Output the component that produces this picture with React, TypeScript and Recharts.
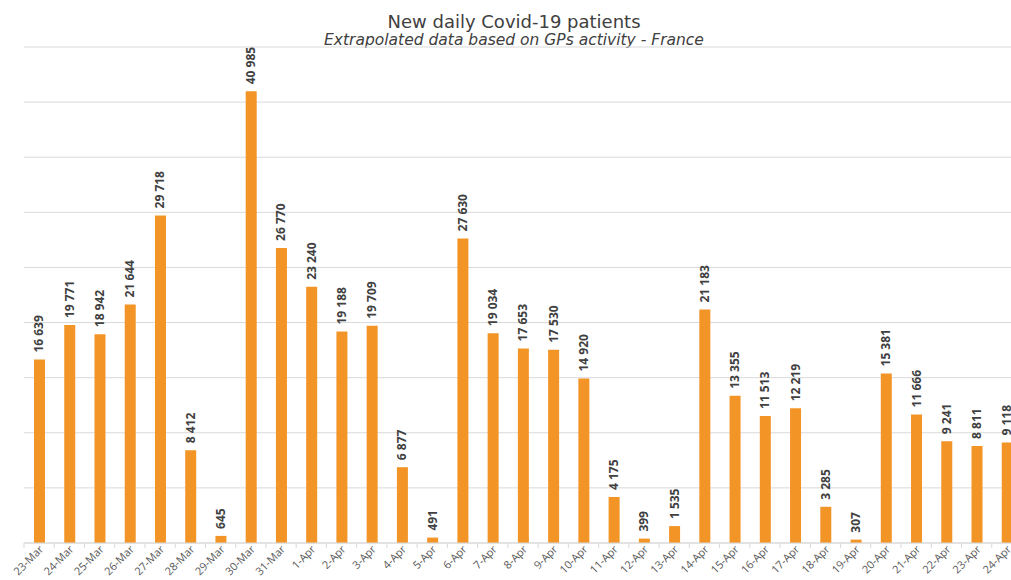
import React from "react";
import { BarChart, Bar, XAxis, YAxis, CartesianGrid, LabelList } from "recharts";

const days = [
  "23-Mar", "24-Mar", "25-Mar", "26-Mar", "27-Mar", "28-Mar", "29-Mar", "30-Mar", "31-Mar",
  "1-Apr", "2-Apr", "3-Apr", "4-Apr", "5-Apr", "6-Apr", "7-Apr", "8-Apr", "9-Apr", "10-Apr",
  "11-Apr", "12-Apr", "13-Apr", "14-Apr", "15-Apr", "16-Apr", "17-Apr", "18-Apr", "19-Apr",
  "20-Apr", "21-Apr", "22-Apr", "23-Apr", "24-Apr",
];
const patients = [
  16639, 19771, 18942, 21644, 29718, 8412, 645, 40985, 26770,
  23240, 19188, 19709, 6877, 491, 27630, 19034, 17653, 17530, 14920,
  4175, 399, 1535, 21183, 13355, 11513, 12219, 3285, 307,
  15381, 11666, 9241, 8811, 9118,
];
const yTicks = [0, 5000, 10000, 15000, 20000, 25000, 30000, 35000, 40000, 45000];

const data = days.map((d, i) => ({ day: d, value: patients[i] }));

const fmt = (v: number) => String(v).replace(/\B(?=(\d{3})+(?!\d))/g, " ");
const BAND = 30.25;
const BASE = 543;

function DayTick(props: any) {
  const { x, payload, index } = props;
  const last = index === days.length - 1;
  const tx = x + 5;
  const ty = BASE + 7;
  return (
    <g>
      <line x1={x - BAND / 2} x2={x - BAND / 2} y1={BASE} y2={BASE + 5} stroke="#d9d9d9" />
      {last && <line x1={x + BAND / 2} x2={x + BAND / 2} y1={BASE} y2={BASE + 5} stroke="#d9d9d9" />}
      <text
        x={tx}
        y={ty}
        textAnchor="end"
        fill="#595959"
        fontSize={11}
        fontFamily="'Open Sans', sans-serif"
        transform={`rotate(-45, ${tx}, ${ty})`}
      >
        {payload.value}
      </text>
    </g>
  );
}

function ValueLabel(props: any) {
  const { x, y, width, value } = props;
  const cx = x + width / 2 + 4;
  const cy = y - 7;
  return (
    <text
      x={cx}
      y={cy}
      transform={`rotate(-90, ${cx}, ${cy})`}
      textAnchor="start"
      fill="#404040"
      fontSize={12}
      fontWeight={700}
      fontFamily="'Open Sans', sans-serif"
    >
      {fmt(value)}
    </text>
  );
}

export default function App() {
  return (
    <div style={{ position: "fixed", left: 0, top: 0, width: 1011, height: 580, overflow: "hidden", background: "#fff" }}>
      <div style={{ position: "absolute", left: 0, top: 0, width: 1028, textAlign: "center", fontFamily: "'DejaVu Sans', sans-serif", color: "#404040" }}>
        <div style={{ position: "absolute", top: 12, width: "100%", fontSize: 18, lineHeight: "20px" }}>New daily Covid-19 patients</div>
        <div style={{ position: "absolute", top: 31, width: "100%", fontSize: 15.5, lineHeight: "18px", fontStyle: "italic" }}>
          Extrapolated data based on GPs activity - France
        </div>
      </div>
      <div style={{ position: "absolute", left: 0, top: 0 }}>
        <BarChart width={1040} height={580} data={data} margin={{ top: 47, right: 18, left: 24, bottom: 0 }} barSize={11}>
          <CartesianGrid horizontal vertical={false} stroke="#d9d9d9" />
          <YAxis hide domain={[0, 45000]} ticks={yTicks} />
          <XAxis
            dataKey="day"
            height={37}
            interval={0}
            tickLine={false}
            axisLine={{ stroke: "#d9d9d9" }}
            tick={<DayTick />}
          />
          <Bar dataKey="value" fill="#F39426" isAnimationActive={false}>
            <LabelList dataKey="value" content={<ValueLabel />} />
          </Bar>
        </BarChart>
      </div>
    </div>
  );
}
